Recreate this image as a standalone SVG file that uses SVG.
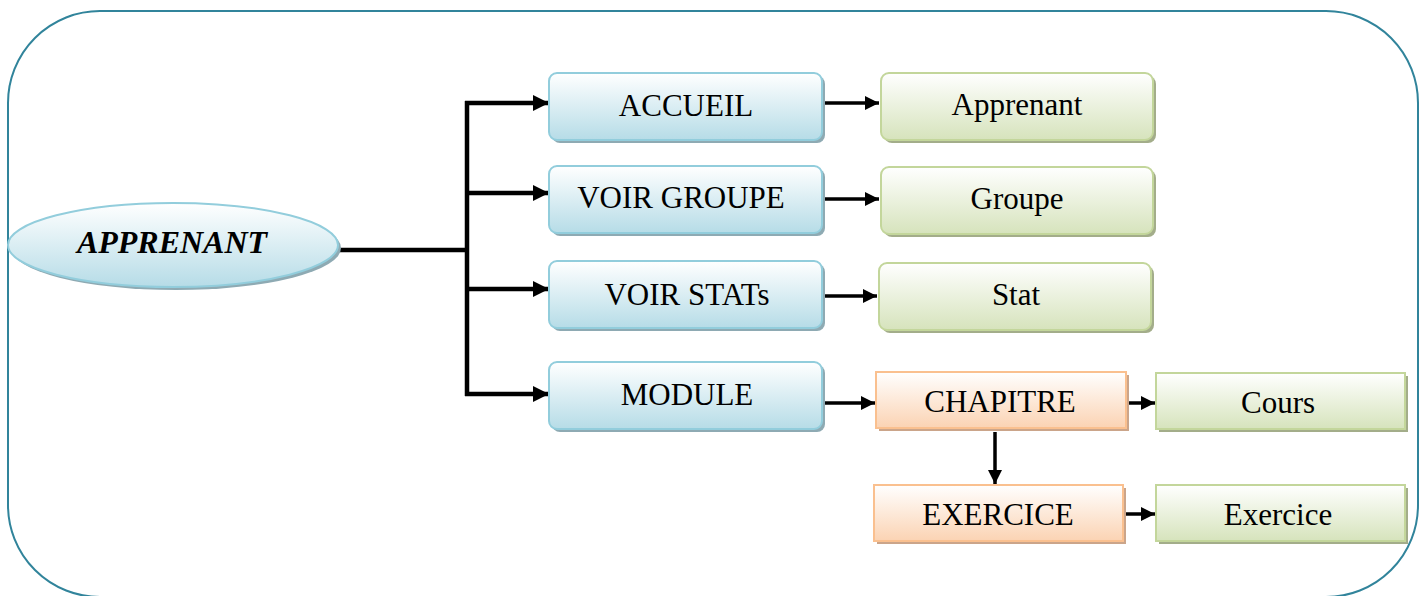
<svg xmlns="http://www.w3.org/2000/svg" width="1426" height="596" viewBox="0 0 1426 596">
  <defs>
    <linearGradient id="gBlue" x1="0" y1="0" x2="0" y2="1">
      <stop offset="0" stop-color="#ffffff"/>
      <stop offset="1" stop-color="#b6dce7"/>
    </linearGradient>
    <linearGradient id="gGreen" x1="0" y1="0" x2="0" y2="1">
      <stop offset="0" stop-color="#ffffff"/>
      <stop offset="1" stop-color="#d6e3bc"/>
    </linearGradient>
    <linearGradient id="gOrange" x1="0" y1="0" x2="0" y2="1">
      <stop offset="0" stop-color="#ffffff"/>
      <stop offset="1" stop-color="#fbd3b3"/>
    </linearGradient>
    <marker id="arrow" viewBox="0 0 16 16" refX="16" refY="8" markerWidth="16" markerHeight="16" markerUnits="userSpaceOnUse" orient="auto">
      <path d="M0,0 L16,8 L0,16 Z" fill="#000"/>
    </marker>
    <marker id="arrowS" viewBox="0 0 14 14" refX="14" refY="7" markerWidth="14" markerHeight="14" markerUnits="userSpaceOnUse" orient="auto">
      <path d="M0,0 L14,7 L0,14 Z" fill="#000"/>
    </marker>
  </defs>
  <style>
    .frame { fill: #ffffff; stroke: #31849b; stroke-width: 2; }
    .blue { fill: url(#gBlue); stroke: #92cddc; stroke-width: 2; }
    .blue-sh { fill: #8eaab3; }
    .green { fill: url(#gGreen); stroke: #c3d69b; stroke-width: 2; }
    .green-sh { fill: #a3ad8a; }
    .orange { fill: url(#gOrange); stroke: #fac08f; stroke-width: 2; }
    .orange-sh { fill: #cba58a; }
    .lbl { font-family: "Liberation Serif", "Times New Roman", serif; font-size: 31px; fill: #000; text-anchor: middle; }
    .root { font-weight: bold; font-style: italic; font-size: 32px; }
    .wire { fill: none; stroke: #000; stroke-width: 4.5; }
    .wire-s { fill: none; stroke: #000; stroke-width: 3.5; }
  </style>

  <!-- outer frame -->
  <rect class="frame" x="8" y="11" width="1410" height="586" rx="92" ry="92"/>

  <!-- connectors -->
  <g id="connectors">
    <path class="wire" d="M338,250 H467"/>
    <path class="wire" d="M467,101 V396"/>
    <path class="wire" d="M465,103 H549" marker-end="url(#arrow)"/>
    <path class="wire" d="M467,193 H549" marker-end="url(#arrow)"/>
    <path class="wire" d="M467,289 H549" marker-end="url(#arrow)"/>
    <path class="wire" d="M465,394 H549" marker-end="url(#arrow)"/>
    <path class="wire-s" d="M825,103 H879" marker-end="url(#arrowS)"/>
    <path class="wire-s" d="M825,199 H879" marker-end="url(#arrowS)"/>
    <path class="wire-s" d="M825,296 H877" marker-end="url(#arrowS)"/>
    <path class="wire-s" d="M825,403 H875" marker-end="url(#arrowS)"/>
    <path class="wire-s" d="M1128,403 H1155" marker-end="url(#arrowS)"/>
    <path class="wire-s" d="M995,432 V484" marker-end="url(#arrowS)"/>
    <path class="wire-s" d="M1125,514 H1155" marker-end="url(#arrowS)"/>
  </g>

  <!-- root ellipse -->
  <g id="apprenant-root">
    <ellipse class="blue-sh" cx="176" cy="248" rx="165" ry="42"/>
    <ellipse class="blue" cx="173" cy="245" rx="165" ry="42"/>
    <text class="lbl root" x="172" y="253">APPRENANT</text>
  </g>

  <!-- first level -->
  <g id="accueil">
    <rect class="blue-sh" x="552" y="76" width="273" height="67" rx="8"/>
    <rect class="blue" x="549" y="73" width="273" height="67" rx="8"/>
    <text class="lbl" x="686" y="116">ACCUEIL</text>
  </g>
  <g id="voir-groupe">
    <rect class="blue-sh" x="552" y="169" width="273" height="67" rx="8"/>
    <rect class="blue" x="549" y="166" width="273" height="67" rx="8"/>
    <text class="lbl" x="681" y="208">VOIR GROUPE</text>
  </g>
  <g id="voir-stats">
    <rect class="blue-sh" x="552" y="264" width="273" height="67" rx="8"/>
    <rect class="blue" x="549" y="261" width="273" height="67" rx="8"/>
    <text class="lbl" x="687" y="305">VOIR STATs</text>
  </g>
  <g id="module">
    <rect class="blue-sh" x="552" y="365" width="273" height="67" rx="8"/>
    <rect class="blue" x="549" y="362" width="273" height="67" rx="8"/>
    <text class="lbl" x="687" y="405">MODULE</text>
  </g>

  <!-- second level -->
  <g id="apprenant">
    <rect class="green-sh" x="884" y="76" width="272" height="67" rx="8"/>
    <rect class="green" x="881" y="73" width="272" height="67" rx="8"/>
    <text class="lbl" x="1017" y="115">Apprenant</text>
  </g>
  <g id="groupe">
    <rect class="green-sh" x="884" y="170" width="272" height="67" rx="8"/>
    <rect class="green" x="881" y="167" width="272" height="67" rx="8"/>
    <text class="lbl" x="1017" y="209">Groupe</text>
  </g>
  <g id="stat">
    <rect class="green-sh" x="882" y="266" width="272" height="67" rx="8"/>
    <rect class="green" x="879" y="263" width="272" height="67" rx="8"/>
    <text class="lbl" x="1016" y="305">Stat</text>
  </g>
  <g id="chapitre">
    <rect class="orange-sh" x="879" y="375" width="250" height="56"/>
    <rect class="orange" x="876" y="372" width="250" height="56"/>
    <text class="lbl" x="1000" y="412">CHAPITRE</text>
  </g>
  <g id="exercice-upper">
    <rect class="orange-sh" x="877" y="488" width="249" height="56"/>
    <rect class="orange" x="874" y="485" width="249" height="56"/>
    <text class="lbl" x="998" y="525">EXERCICE</text>
  </g>
  <g id="cours">
    <rect class="green-sh" x="1159" y="376" width="249" height="56"/>
    <rect class="green" x="1156" y="373" width="249" height="56"/>
    <text class="lbl" x="1278" y="413">Cours</text>
  </g>
  <g id="exercice">
    <rect class="green-sh" x="1159" y="488" width="249" height="56"/>
    <rect class="green" x="1156" y="485" width="249" height="56"/>
    <text class="lbl" x="1278" y="525">Exercice</text>
  </g>
</svg>
